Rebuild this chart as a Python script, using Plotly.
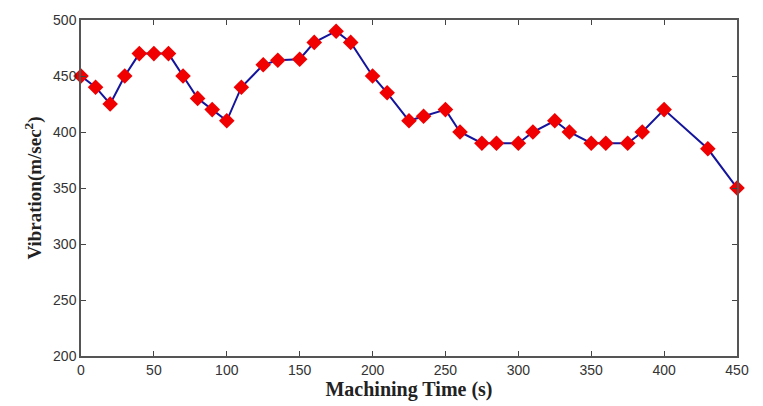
import plotly.graph_objects as go

time_s = [0, 10, 20, 30, 40, 50, 60, 70, 80, 90, 100, 110, 125, 135, 150, 160, 175, 185,
          200, 210, 225, 235, 250, 260, 275, 285, 300, 310, 325, 335, 350, 360, 375, 385,
          400, 430, 450]
vibration = [450, 440, 425, 450, 470, 470, 470, 450, 430, 420, 410, 440, 460, 464, 465, 480, 490, 480,
             450, 435, 410, 414, 420, 400, 390, 390, 390, 400, 410, 400, 390, 390, 390, 400,
             420, 385, 350]

x_ticks = [0, 50, 100, 150, 200, 250, 300, 350, 400, 450]
y_ticks = [200, 250, 300, 350, 400, 450, 500]

fig = go.Figure()
fig.add_trace(go.Scatter(
    x=time_s, y=vibration, mode="lines+markers",
    line=dict(color="#14149c", width=2),
    marker=dict(symbol="diamond", size=12, color="#f00000", line=dict(width=0)),
    cliponaxis=False, showlegend=False,
))

axis_common = dict(
    showgrid=False, zeroline=False, showline=True, linecolor="#555555", linewidth=1.5,
    mirror="ticks", ticks="inside", ticklen=5, tickcolor="#444444", tickwidth=1,
    tickfont=dict(family="Liberation Sans, Arial", size=14, color="#333333"),
)

fig.update_xaxes(range=[0, 450], tickvals=x_ticks, **axis_common,
                 title=dict(text="<b>Machining Time (s)</b>",
                            font=dict(family="Liberation Serif, Times New Roman", size=20, color="#222222"),
                            standoff=2))
fig.update_yaxes(range=[200, 500], tickvals=y_ticks, **axis_common,
                 title=dict(text="<b>Vibration(m/sec<sup>2</sup>)</b>",
                            font=dict(family="Liberation Serif, Times New Roman", size=19, color="#222222"),
                            standoff=6))

fig.update_layout(
    width=763, height=406,
    margin=dict(l=81, r=26, t=16, b=49),
    paper_bgcolor="white", plot_bgcolor="white",
)

fig.write_html("out.html", config={"displayModeBar": False},
               post_script="document.body.style.margin='0px';")
